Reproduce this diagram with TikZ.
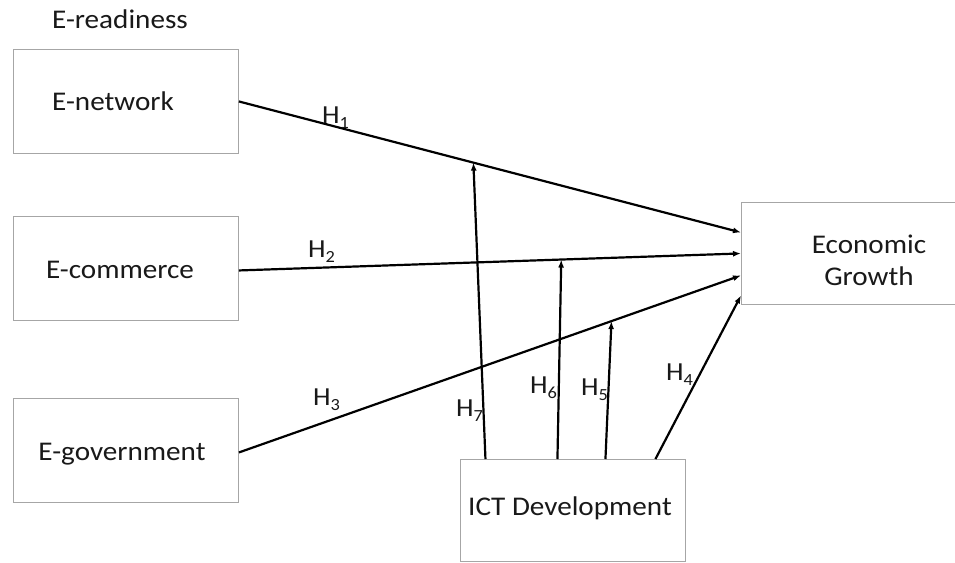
\documentclass[tikz,border=0pt]{standalone}
\usepackage{fontspec}
\setmainfont[FakeStretch=1.08]{Carlito}
\usetikzlibrary{arrows.meta}
\newcommand{\Hsub}[1]{H\raisebox{-5pt}{\fontsize{17}{17}\selectfont #1}}
\begin{document}
\begin{tikzpicture}[x=1pt,y=-1pt,
  box/.style={draw=black!35, line width=0.9pt, fill=white, minimum width=225pt, minimum height=104pt, anchor=north west, inner sep=0pt},
  txt/.style={font=\fontsize{27}{30}\selectfont, text=black!90, anchor=base, inner sep=0pt},
  hl/.style={font=\fontsize{26}{28}\selectfont, text=black!90, anchor=base west, inner sep=0pt},
  conn/.style={line width=2.2pt, -{Latex[length=8pt,width=6pt]}}]
\useasboundingbox (0,0) rectangle (955,562);
\fill[white] (0,0) rectangle (955,562);
% boxes
\node[box] (net) at (13,49) {};
\node[box] (com) at (13,216) {};
\node[box] (gov) at (13,398) {};
\node[box, minimum width=218pt, minimum height=102pt] (eg) at (741,202) {};
\node[box, minimum height=102pt] (ict) at (460,459) {};
% texts
\node[txt] (tread) at (120,28) {E-readiness};
\node[txt] (tnet) at (113,110) {E-network};
\node[txt] (tcom) at (120,278) {E-commerce};
\node[txt] (tgov) at (122,460) {E-government};
\node[txt] (teg1) at (869,253) {Economic};
\node[txt] (teg2) at (869,285) {Growth};
\node[txt] (tict) at (570,515) {ICT Development};
% endpoints on economic growth
\coordinate (e1) at ([yshift=21pt]eg.west);
\coordinate (e2) at (eg.west);
\coordinate (e3) at ([yshift=-22pt]eg.west);
\coordinate (e4) at ([yshift=-42pt]eg.west);
% main arrows
\draw[conn] (net.east) -- coordinate[pos=0.467] (m7) (e1);
\draw[conn] ([yshift=-2pt]com.east) -- coordinate[pos=0.642] (m6) (e2);
\draw[conn] ([yshift=-2pt]gov.east) -- coordinate[pos=0.742] (m5) (e3);
% moderator arrows
\draw[conn] ([xshift=-87.5pt]ict.north) -- (m7);
\draw[conn] ([xshift=-15.5pt]ict.north) -- (m6);
\draw[conn] ([xshift=32.5pt]ict.north) -- (m5);
\draw[conn] ([xshift=82.5pt]ict.north) -- (e4);
% hypothesis labels
\node[hl] (h1) at (322,123) {\Hsub{1}};
\node[hl] (h2) at (308,257) {\Hsub{2}};
\node[hl] (h3) at (313,405) {\Hsub{3}};
\node[hl] (h4) at (666,380) {\Hsub{4}};
\node[hl] (h5) at (581,395) {\Hsub{5}};
\node[hl] (h6) at (530,393) {\Hsub{6}};
\node[hl] (h7) at (456,416) {\Hsub{7}};
\end{tikzpicture}
\end{document}
